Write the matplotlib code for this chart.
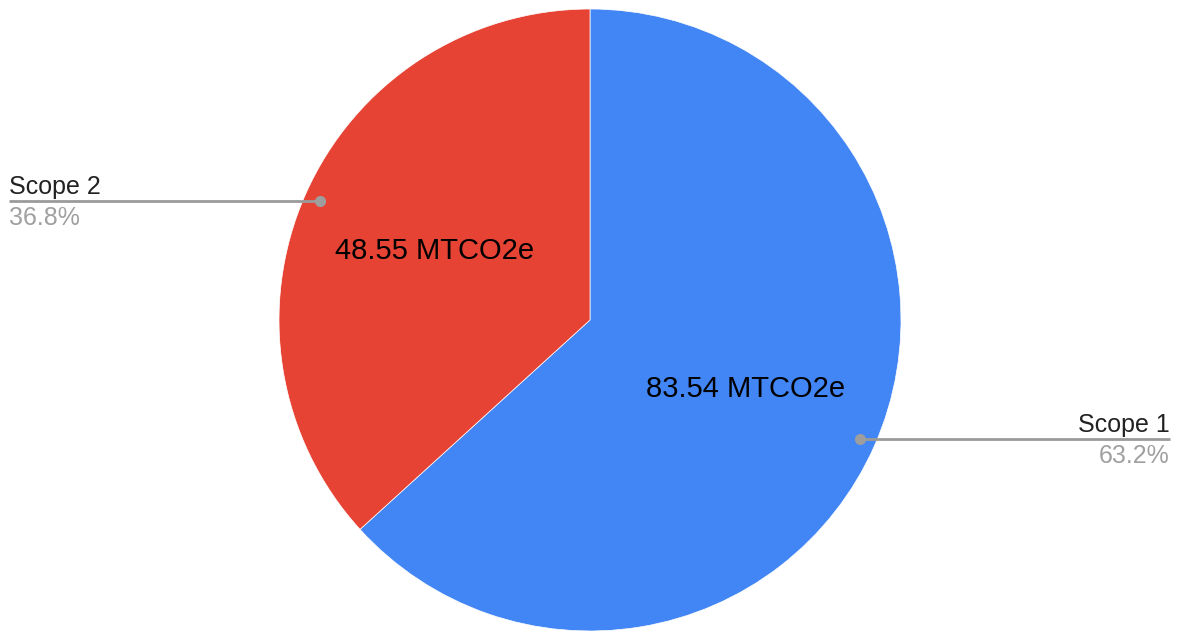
import numpy as np
import matplotlib
matplotlib.use("Agg")
import matplotlib.pyplot as plt

plt.rcParams["font.family"] = ["Liberation Sans", "DejaVu Sans"]

# dados
categorias = ["Scope 1", "Scope 2"]
valores = [83.54, 48.55]
cores = ["#4285f4", "#e64335"]
unidade = "MTCO2e"

W, H = 1178, 633
fig = plt.figure(figsize=(W / 100, H / 100), dpi=100)
ax = fig.add_axes([0, 0, 1, 1])

cx, cy, r = 590, H - 320, 311
total = sum(valores)

wedges, _, autotexts = ax.pie(
    valores,
    colors=cores,
    startangle=90,
    counterclock=False,
    center=(cx, cy),
    radius=r,
    autopct=lambda p: f"{p * total / 100:.2f} {unidade}",
    pctdistance=0.547,
    wedgeprops=dict(edgecolor="white", linewidth=0.5),
    frame=True,
)
ax.set_xlim(0, W)
ax.set_ylim(0, H)
ax.set_aspect("equal")
ax.axis("off")
for t in autotexts:
    t.set_fontsize(21)
    t.set_color("black")

# rótulos externos com linha
for w, nome, v in zip(wedges, categorias, valores):
    ang = np.deg2rad((w.theta1 + w.theta2) / 2)
    px = cx + 0.95 * r * np.cos(ang)
    py = cy + 0.95 * r * np.sin(ang)
    pct = f"{v / total * 100:.1f}%"
    if np.cos(ang) < 0:
        x_fim, ha = 9, "left"
    else:
        x_fim, ha = 1170, "right"
    ax.plot([px, x_fim], [py, py], color="#9a9a9a", lw=2, solid_capstyle="butt", zorder=3)
    ax.plot(px, py, "o", color="#9e9e9e", ms=7, zorder=4)
    ax.text(x_fim, py + 7, nome, ha=ha, va="baseline", fontsize=18, color="#222222")
    ax.text(x_fim, py - 5, pct, ha=ha, va="top", fontsize=18, color="#a0a0a0")

fig.savefig("out.png", dpi=100, facecolor="white")
